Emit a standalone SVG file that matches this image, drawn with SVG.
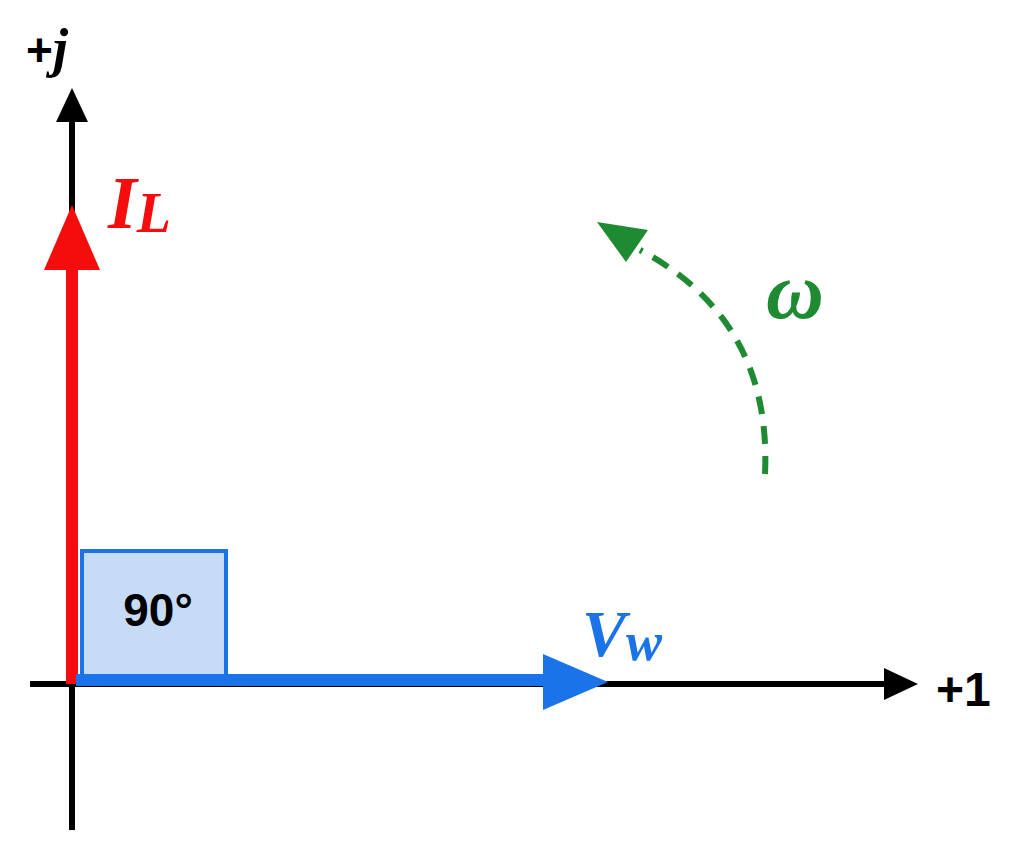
<svg xmlns="http://www.w3.org/2000/svg" width="1024" height="861" viewBox="0 0 1024 861">
<style>
.lbl{font-family:"Liberation Serif",serif;font-weight:bold;font-style:italic}
.num{font-family:"Liberation Sans",sans-serif;font-weight:bold}
</style>
<rect width="1024" height="861" fill="#ffffff"/>
<g id="axes">
<line x1="72" y1="830" x2="72" y2="110" stroke="#000" stroke-width="6"/>
<polygon points="72,88 56,122 88,122" fill="#000"/>
<line x1="30" y1="684" x2="895" y2="684" stroke="#000" stroke-width="6"/>
<polygon points="918,684 884,668 884,700" fill="#000"/>
<text x="26" y="66" class="num" font-size="46">+<tspan class="lbl" font-size="54">j</tspan></text>
<text x="936" y="706" class="num" font-size="48">+1</text>
</g>
<g id="box90">
<rect x="82" y="551" width="144" height="125" fill="#c6dcf6" stroke="#1a73e8" stroke-width="4"/>
<text x="158" y="626" class="num" font-size="46" text-anchor="middle">90°</text>
</g>
<g id="connectors">
<line x1="72" y1="684" x2="72" y2="260" stroke="#f50d0d" stroke-width="12"/>
<polygon points="72,205 44,270 100,270" fill="#f50d0d"/>
<line x1="76" y1="680" x2="550" y2="680" stroke="#1a73e8" stroke-width="12"/>
<polygon points="608,682 543,654 543,710" fill="#1a73e8"/>
<path d="M765,474 Q772,320 640,250" fill="none" stroke="#1e8a32" stroke-width="6" stroke-dasharray="18,12"/>
<polygon points="597,222 648,230 626,262" fill="#1e8a32"/>
</g>
<g id="labels">
<text x="108" y="228" class="lbl" font-size="74" fill="#f50d0d">I<tspan font-size="56" dy="4">L</tspan></text>
<text x="582" y="656" class="lbl" font-size="66" fill="#1a73e8">V<tspan font-size="54" dy="4">w</tspan></text>
<text x="766" y="318" class="lbl" font-size="80" fill="#1e8a32">ω</text>
</g>
</svg>
